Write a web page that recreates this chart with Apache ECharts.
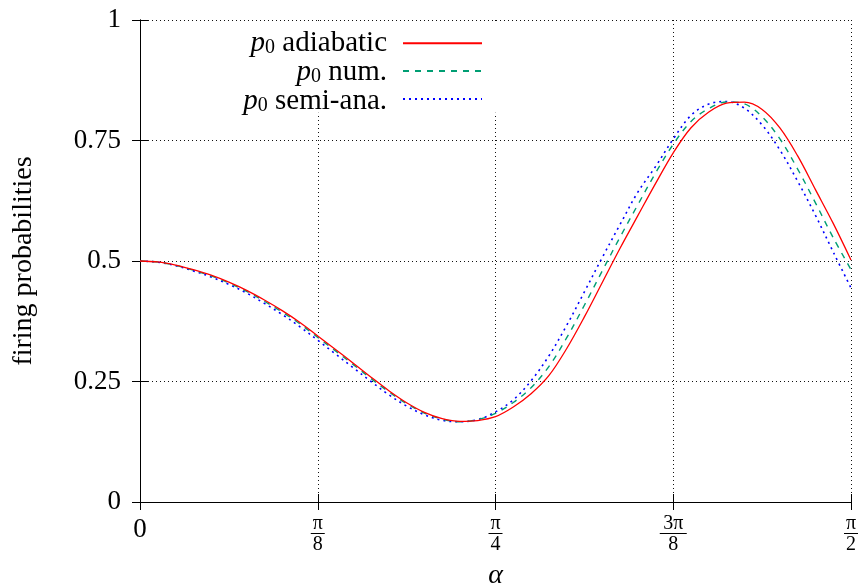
<!DOCTYPE html>
<html>
<head>
<meta charset="utf-8">
<script src="https://cdn.jsdelivr.net/npm/echarts@6/dist/echarts.min.js"></script>
<style>html,body{margin:0;padding:0;background:#fff}#c{width:861px;height:587px}</style>
</head>
<body>
<div id="c"></div>
<script>
// alpha in units of pi, sampled every pi/80 from 0 to pi/2
const alphaOverPi = [0, 0.0125, 0.025, 0.0375, 0.05, 0.0625, 0.075, 0.0875, 0.1, 0.1125, 0.125, 0.1375, 0.15, 0.1625, 0.175, 0.1875, 0.2, 0.2125, 0.225, 0.2375, 0.25, 0.2625, 0.275, 0.2875, 0.3, 0.3125, 0.325, 0.3375, 0.35, 0.3625, 0.375, 0.3875, 0.4, 0.4125, 0.425, 0.4375, 0.45, 0.4625, 0.475, 0.4875, 0.5];
const p0Adiabatic = [0.500, 0.498, 0.4915, 0.482, 0.4705, 0.456, 0.439, 0.419, 0.397, 0.3725, 0.3445, 0.3165, 0.288, 0.259, 0.231, 0.206, 0.186, 0.173, 0.1673, 0.169, 0.177, 0.197, 0.2245, 0.262, 0.318, 0.384, 0.455, 0.526, 0.5935, 0.6605, 0.7245, 0.7765, 0.809, 0.8275, 0.8295, 0.8145, 0.776, 0.718, 0.648, 0.578, 0.502];
const p0Num = [0.500, 0.4978, 0.491, 0.481, 0.469, 0.4545, 0.437, 0.4165, 0.394, 0.3695, 0.3415, 0.3135, 0.285, 0.256, 0.2285, 0.204, 0.1845, 0.172, 0.1666, 0.171, 0.1838, 0.2064, 0.2372, 0.281, 0.3404, 0.4081, 0.4791, 0.549, 0.6163, 0.6823, 0.7422, 0.7895, 0.8164, 0.830, 0.826, 0.799, 0.7534, 0.6907, 0.6207, 0.5484, 0.482];
const p0SemiAna = [0.500, 0.4975, 0.4905, 0.4795, 0.467, 0.4515, 0.4335, 0.412, 0.389, 0.3635, 0.3355, 0.307, 0.2785, 0.250, 0.2225, 0.199, 0.181, 0.1695, 0.1665, 0.171, 0.187, 0.212, 0.2515, 0.3029, 0.3662, 0.4358, 0.5068, 0.5753, 0.6424, 0.6957, 0.7531, 0.8022, 0.8257, 0.831, 0.817, 0.7822, 0.7302, 0.6655, 0.5948, 0.5187, 0.444];

const seriesNames = ['adiabatic', 'num.', 'semi-ana.'];
const xTickNum = ['0', 'π', 'π', '3π', 'π'];
const xTickDen = ['', '8', '4', '8', '2'];
const yTickLabels = ['0', '0.25', '0.5', '0.75', '1'];

const FONT = 'Liberation Serif';
const legendRowY = [43.3, 72.5, 101.7];
function zip(xs, ys) { return xs.map((x, i) => [x, ys[i]]); }

const chart = echarts.init(document.getElementById('c'), null, {renderer: 'canvas'});
const gridLine = {show: true, lineStyle: {color: '#111', width: 1, type: [1, 3]}};
const baseAxisLine = {show: true, lineStyle: {color: '#000', width: 1}};
const tickIn = {show: true, inside: true, length: 8, lineStyle: {color: '#000', width: 1}};
const legendRich = {
  p: {fontFamily: FONT, fontStyle: 'italic', fontSize: 29, lineHeight: 28, fill: '#000'},
  s: {fontFamily: FONT, fontSize: 20, lineHeight: 10, verticalAlign: 'bottom', fill: '#000'},
  t: {fontFamily: FONT, fontSize: 29, lineHeight: 28, fill: '#000'}
};

const option = {
  animation: false,
  backgroundColor: '#fff',
  textStyle: {fontFamily: FONT},
  grid: {left: 140, right: 10, top: 20, bottom: 85, containLabel: false, outerBoundsMode: 'none'},
  legend: {
    orient: 'vertical',
    align: 'right',
    right: 363,
    top: 21,
    padding: [15.3, 15, 8.3, 174],
    itemGap: 15.2,
    itemWidth: 79,
    itemHeight: 14,
    backgroundColor: '#fff',
    itemStyle: {opacity: 0},
    data: seriesNames,
    formatter: function () { return ''; },
    textStyle: {fontFamily: FONT, fontSize: 12}
  },
  graphic: seriesNames.map(function (n, i) {
    return {
      type: 'text', x: 387, y: legendRowY[i], z: 100, silent: true,
      style: {
        text: '{p|p}{s|0}{t| ' + n + '}',
        align: 'right', verticalAlign: 'middle',
        fontFamily: FONT, fontSize: 29, fill: '#000',
        rich: legendRich
      }
    };
  }),
  xAxis: [{
    type: 'value', position: 'bottom', min: 0, max: 0.5, interval: 0.125,
    axisLine: baseAxisLine, axisTick: tickIn, splitLine: gridLine,
    name: 'α', nameLocation: 'middle', nameGap: 60,
    nameTextStyle: {fontFamily: FONT, fontStyle: 'italic', fontSize: 28, color: '#000'},
    axisLabel: {
      show: true, margin: 14, showMinLabel: true, showMaxLabel: true, color: '#000', fontFamily: FONT,
      formatter: function (v) {
        const i = Math.round(v / 0.125);
        if (i === 0) return '{z|' + xTickNum[0] + '}';
        const bar = xTickNum[i].length > 1 ? 'b3' : 'b1';
        return '{n|' + xTickNum[i] + '}\n{' + bar + '| }\n{d|' + xTickDen[i] + '}';
      },
      rich: {
        z: {fontFamily: FONT, fontSize: 27, lineHeight: 28},
        n: {fontFamily: FONT, fontSize: 20, lineHeight: 16},
        d: {fontFamily: FONT, fontSize: 20, lineHeight: 20},
        b1: {fontSize: 1, width: 14, height: 1, lineHeight: 3, backgroundColor: '#000'},
        b3: {fontSize: 1, width: 27, height: 1, lineHeight: 3, backgroundColor: '#000'}
      }
    }
  }, {
    type: 'value', position: 'top', min: 0, max: 0.5, interval: 0.125, z: 10,
    axisLine: baseAxisLine, axisTick: tickIn, splitLine: {show: false}, axisLabel: {show: false}
  }],
  yAxis: [{
    type: 'value', position: 'left', min: 0, max: 1, interval: 0.25,
    axisLine: baseAxisLine, axisTick: tickIn, splitLine: gridLine,
    name: 'firing probabilities', nameLocation: 'middle', nameGap: 102, nameRotate: 90,
    nameTextStyle: {fontFamily: FONT, fontSize: 28, color: '#000'},
    axisLabel: {
      show: true, margin: 19, color: '#000', fontFamily: FONT, fontSize: 27,
      formatter: function (v) { return yTickLabels[Math.round(v / 0.25)]; }
    }
  }, {
    type: 'value', position: 'right', min: 0, max: 1, interval: 0.25,
    axisLine: baseAxisLine, axisTick: tickIn, splitLine: {show: false}, axisLabel: {show: false}
  }],
  series: [{
    name: seriesNames[0], type: 'line', symbol: 'none', smooth: 0.35,
    data: zip(alphaOverPi, p0Adiabatic),
    lineStyle: {color: '#ff0000', width: 1.3, type: 'solid'},
    itemStyle: {color: '#ff0000'}, z: 4
  }, {
    name: seriesNames[1], type: 'line', symbol: 'none', smooth: 0.35,
    data: zip(alphaOverPi, p0Num),
    lineStyle: {color: '#009e73', width: 1.4, type: [6, 6]},
    itemStyle: {color: '#009e73'}, z: 3
  }, {
    name: seriesNames[2], type: 'line', symbol: 'none', smooth: 0.35,
    data: zip(alphaOverPi, p0SemiAna),
    lineStyle: {color: '#0000ff', width: 1.6, type: [2, 4]},
    itemStyle: {color: '#0000ff'}, z: 2
  }]
};
chart.setOption(option);
</script>
</body>
</html>
